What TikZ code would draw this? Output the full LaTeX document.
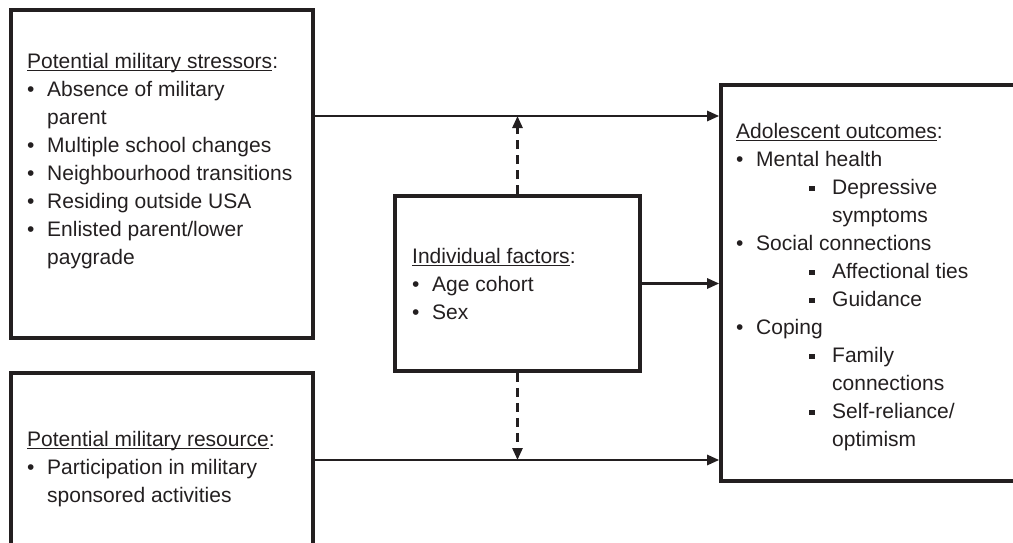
\documentclass[tikz,border=0pt]{standalone}
\usepackage{fontspec}
\setmainfont{Liberation Sans}
\usetikzlibrary{arrows.meta}

\definecolor{ink}{HTML}{231F20}

\newsavebox{\ulbox}
\newcommand{\ulin}[1]{\sbox{\ulbox}{#1}\rlap{\rule[-3pt]{\wd\ulbox}{1pt}}\usebox{\ulbox}}
\newcommand{\bul}{\makebox[20pt][l]{\textbullet}}
\newcommand{\ind}{\hspace*{20pt}}
\newcommand{\sqb}{\hspace*{73pt}\makebox[23pt][l]{\rule[3pt]{5.5pt}{5.5pt}}}
\newcommand{\sind}{\hspace*{96pt}}

\tikzset{
  box/.style={draw=ink, line width=3.6pt, inner sep=0pt},
  txt/.style={anchor=north west, inner sep=0pt, align=left, text=ink,
    font=\fontsize{21}{28}\selectfont},
  arr/.style={draw=ink, line width=2.6pt, -{Triangle[length=12pt,width=10pt]}},
  darr/.style={arr, dash pattern=on 9pt off 6pt}
}

\begin{document}
\begin{tikzpicture}[x=1pt, y=-1pt]
\useasboundingbox (0,0) rectangle (1013,543);

\node[box, minimum width=302pt, minimum height=328pt] (stress) at (162,174) {};
\node[box, minimum width=302pt, minimum height=200pt] (resrc) at (162,473) {};
\node[box, minimum width=245pt, minimum height=175pt] (indiv) at (517.5,283.5) {};
\node[box, minimum width=320pt, minimum height=396pt] (outc) at (881,283) {};

\node[txt] (stresstxt) at (27,53) {\ulin{Potential military stressors}:\\
\bul Absence of military\\
\ind parent\\
\bul Multiple school changes\\
\bul Neighbourhood transitions\\
\bul Residing outside USA\\
\bul Enlisted parent/lower\\
\ind paygrade};

\node[txt] (resrctxt) at (27,431) {\ulin{Potential military resource}:\\
\bul Participation in military\\
\ind sponsored activities};

\node[txt] (indivtxt) at (412,248) {\ulin{Individual factors}:\\
\bul Age cohort\\
\bul Sex};

\node[txt] (outctxt) at (736,123) {\ulin{Adolescent outcomes}:\\
\bul Mental health\\
\sqb Depressive\\
\sind symptoms\\
\bul Social connections\\
\sqb Affectional ties\\
\sqb Guidance\\
\bul Coping\\
\sqb Family\\
\sind connections\\
\sqb Self-reliance/\\
\sind optimism};

\coordinate (toprow) at (0,116);
\coordinate (botrow) at (0,460);

\draw[arr] (stress.east |- toprow) -- (outc.west |- toprow);
\draw[arr] (resrc.east |- botrow) -- (outc.west |- botrow);
\draw[arr] (indiv.east) -- (outc.west |- indiv.east);

\draw[darr] (indiv.north) -- (indiv.north |- toprow);
\draw[darr] (indiv.south) -- (indiv.south |- botrow);
\end{tikzpicture}
\end{document}
